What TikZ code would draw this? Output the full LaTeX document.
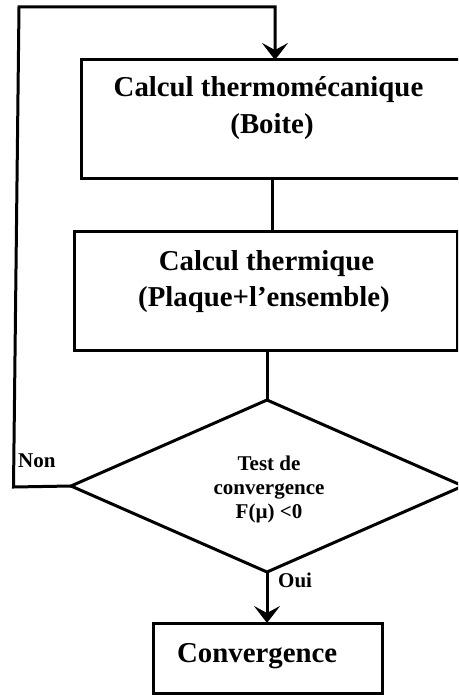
\documentclass[tikz,border=0pt]{standalone}
\usepackage{fontspec}
\setmainfont{Liberation Serif}
\usetikzlibrary{shapes.geometric,arrows.meta}
\begin{document}
\begin{tikzpicture}[x=1pt,y=-1pt,
  box/.style={draw, rectangle, line width=3pt, inner sep=0pt, outer sep=0pt},
  big/.style={font=\fontsize{28.8}{34}\selectfont\bfseries, inner sep=0pt, anchor=base},
  small/.style={font=\fontsize{21}{24}\selectfont\bfseries, inner sep=0pt, anchor=base},
  flow/.style={line width=3pt},
  arr/.style={flow, -{Stealth[length=17pt,width=26pt,inset=7pt]}}]
\useasboundingbox (0,0) rectangle (458,695);
\clip (0,0) rectangle (458,695);

% process boxes
\node[box, minimum width=381pt, minimum height=118pt] (calcA) at (271.5,119) {};
\node[box, minimum width=383pt, minimum height=119pt] (calcB) at (265.5,290.5) {};
\node[draw, diamond, line width=3pt, minimum width=392pt, minimum height=172pt,
      inner sep=0pt, outer sep=0pt] (test) at (267,486) {};
\node[box, minimum width=229pt, minimum height=70pt] (conv) at (267.5,658) {};

% box texts
\node[big] (tA1) at (268.5,97) {Calcul thermomécanique};
\node[big] (tA2) at (272,134) {(Boite)};
\node[big] (tB1) at (266.5,270) {Calcul thermique};
\node[big] (tB2) at (264,306) {(Plaque+l’ensemble)};
\node[small] (tT1) at (269,470) {Test de};
\node[small] (tT2) at (269,494) {convergence};
\node[small] (tT3) at (269,518) {F(µ) <0};
\node[big, anchor=base west] (convt) at (177,662) {Convergence};

% branch labels
\node[small, anchor=base west] (non) at (18,467) {Non};
\node[small, anchor=base west] (oui) at (278,587) {Oui};

% connectors
\coordinate (loopBL) at (13.5,487);
\coordinate (loopTL) at (19,7);
\coordinate (loopTR) at (275,7);
\coordinate (linkAB) at (272,0);
\draw[arr] (test.west) -- (loopBL) -- (loopTL) -- (loopTR) -- (loopTR |- calcA.north);
\draw[flow] (linkAB |- calcA.south) -- (linkAB |- calcB.north);
\draw[flow] (calcB.south -| test.north) -- (test.north);
\draw[arr] (test.south) -- (test.south |- conv.north);
\end{tikzpicture}
\end{document}
